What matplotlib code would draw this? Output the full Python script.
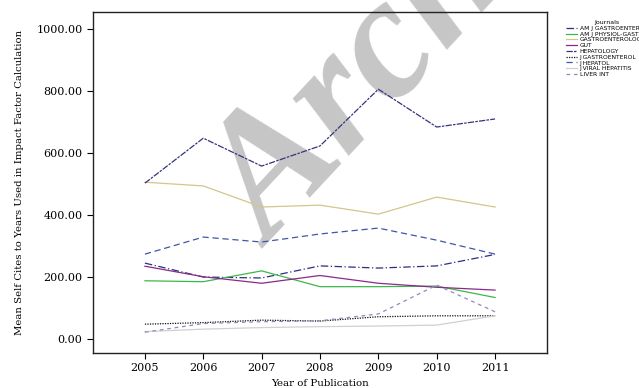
import numpy as np
import matplotlib
matplotlib.use("Agg")
import matplotlib.pyplot as plt

years = [2005, 2006, 2007, 2008, 2009, 2010, 2011]

journals = ["AM J GASTROENTEROL", "AM J PHYSIOL-GASTR L", "GASTROENTEROLOGY", "GUT",
            "HEPATOLOGY", "J GASTROENTEROL", "J HEPATOL", "J VIRAL HEPATITIS", "LIVER INT"]

am_j_gastro = [245, 200, 197, 236, 229, 236, 273]
am_j_physiol = [188, 185, 220, 169, 169, 171, 134]
gastroenterology = [506, 494, 426, 432, 403, 458, 426]
gut = [235, 201, 180, 205, 180, 167, 158]
hepatology = [503, 648, 558, 623, 806, 684, 710]
j_gastro = [48, 53, 61, 58, 72, 75, 75]
j_hepatol = [274, 329, 313, 339, 358, 319, 274]
j_viral = [24, 32, 37, 40, 42, 45, 75]
liver_int = [22, 50, 56, 59, 81, 174, 88]

series = [am_j_gastro, am_j_physiol, gastroenterology, gut, hepatology,
          j_gastro, j_hepatol, j_viral, liver_int]
colors = ["#2b2f7e", "#3cb84a", "#d2c68a", "#8a2a88", "#34347e",
          "#111111", "#4256a6", "#d0d0d0", "#8c8cbc"]
styles = [(0, (6, 2, 1, 2)), "-", "-", "-", (0, (5, 1, 2, 1)),
          (0, (1, 1)), (0, (5, 3)), "-", (0, (3, 3))]

fig = plt.figure(figsize=(6.39, 3.88), dpi=100)
ax = fig.add_axes([0.1455, 0.0902, 0.7105, 0.8788])

for name, vals, c, ls in zip(journals, series, colors, styles):
    ax.plot(years, vals, color=c, linestyle=ls, linewidth=0.9, label=name, zorder=3)

# watermark behind the lines
ax.text(0.425, 0.36, "Archive", transform=fig.transFigure, fontsize=125,
        family="Liberation Serif", style="italic", weight="bold", color="#c6c6c6",
        rotation=47, rotation_mode="anchor", ha="left", va="baseline",
        zorder=1, clip_on=False)

ax.set_xlim(2004.11, 2011.89)
ax.set_ylim(-45, 1055)
ax.set_xticks(years)
ax.set_yticks([0, 200, 400, 600, 800, 1000])
ax.set_yticklabels([f"{v:.2f}" for v in [0, 200, 400, 600, 800, 1000]])
ax.tick_params(labelsize=8, length=4, width=0.8, direction="out")
for lab in ax.get_xticklabels() + ax.get_yticklabels():
    lab.set_family("DejaVu Serif")
for sp in ax.spines.values():
    sp.set_linewidth(1.0)
    sp.set_color("#222222")

ax.set_xlabel("Year of Publication", family="DejaVu Serif", fontsize=7.4, labelpad=4)
ax.set_ylabel("Mean Self Cites to Years Used in Impact Factor Calculation",
              family="DejaVu Serif", fontsize=7.3, labelpad=9)

fig.legend(loc="upper left", bbox_to_anchor=(0.878, 0.962), frameon=False,
           fontsize=4.3, title="Journals", title_fontsize=4.5,
           handlelength=1.8, handletextpad=0.4, labelspacing=0.1)

fig.savefig("out.png", dpi=100)
